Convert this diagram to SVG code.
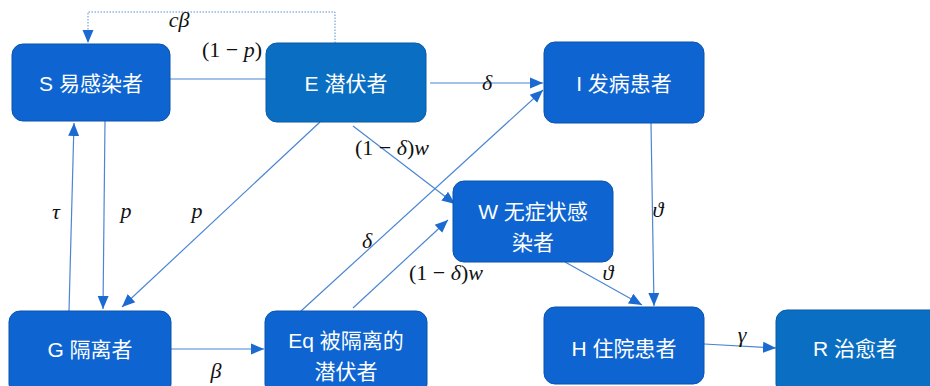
<svg xmlns="http://www.w3.org/2000/svg" width="930" height="386" viewBox="0 0 930 386">
<style>
.box{fill:#0e65d1;stroke:#0b52ab;stroke-width:1}
.box2{fill:#0a6fc3;stroke:#0a5aa3;stroke-width:1}
.t{fill:#ffffff;font-family:"Liberation Sans","Noto Sans CJK SC",sans-serif;font-size:21px;text-anchor:middle;dominant-baseline:central}
.m{fill:#111111;font-family:"Liberation Serif","DejaVu Serif",serif;font-size:22px;text-anchor:middle}
.i{font-style:italic}
.c{fill:none;stroke:#4a86d3;stroke-width:1.2}
.d{fill:none;stroke:#5b8fd6;stroke-width:1;stroke-dasharray:1.5 1.5}
</style>
<defs>
<marker id="ah" markerUnits="userSpaceOnUse" markerWidth="14" markerHeight="14" viewBox="0 0 14 14" refX="13" refY="7" orient="auto">
<path d="M0,1.5 L13,7 L0,12.5 Z" fill="#1a6ad2"/>
</marker>
</defs>
<rect width="930" height="386" fill="#ffffff"/>
<g id="connectors">
<path class="d" d="M335,43 V12 H88 V43" marker-end="url(#ah)"/>
<line class="c" x1="170" y1="79" x2="266" y2="79"/>
<line class="c" x1="430" y1="83" x2="543" y2="83" marker-end="url(#ah)"/>
<line class="c" x1="105" y1="121" x2="103" y2="309" marker-end="url(#ah)"/>
<line class="c" x1="69" y1="311" x2="74" y2="123" marker-end="url(#ah)"/>
<line class="c" x1="320" y1="122" x2="122" y2="307" marker-end="url(#ah)"/>
<line class="c" x1="353" y1="126" x2="455" y2="204" marker-end="url(#ah)"/>
<line class="c" x1="301" y1="311" x2="543" y2="90" marker-end="url(#ah)"/>
<line class="c" x1="353" y1="308" x2="448" y2="220" marker-end="url(#ah)"/>
<line class="c" x1="651" y1="123" x2="654" y2="306" marker-end="url(#ah)"/>
<line class="c" x1="565" y1="262" x2="642" y2="305" marker-end="url(#ah)"/>
<line class="c" x1="171" y1="349" x2="264" y2="349" marker-end="url(#ah)"/>
<line class="c" x1="704" y1="344" x2="776" y2="348" marker-end="url(#ah)"/>
</g>
<g id="labels">
<text class="m i" x="179" y="27">cβ</text>
<text class="m" x="232" y="57">(1 − <tspan class="i">p</tspan>)</text>
<text class="m i" x="487" y="90">δ</text>
<text class="m" x="392" y="155">(1 − <tspan class="i">δ</tspan>)<tspan class="i">w</tspan></text>
<text class="m i" x="56" y="219">τ</text>
<text class="m i" x="126" y="218">p</text>
<text class="m i" x="197" y="218">p</text>
<text class="m i" x="367" y="248">δ</text>
<text class="m" x="446" y="280">(1 − <tspan class="i">δ</tspan>)<tspan class="i">w</tspan></text>
<text class="m i" x="658" y="217">ϑ</text>
<text class="m i" x="608" y="280">ϑ</text>
<text class="m i" x="216" y="378">β</text>
<text class="m i" x="742" y="342">γ</text>
</g>
<g id="S"><rect class="box" x="12" y="44" width="158" height="77" rx="11"/><text class="t" x="91" y="83">S 易感染者</text></g>
<g id="E"><rect class="box2" x="266" y="43" width="160" height="79" rx="11"/><text class="t" x="346" y="83">E 潜伏者</text></g>
<g id="I"><rect class="box" x="544" y="42" width="160" height="81" rx="11"/><text class="t" x="624" y="83">I 发病患者</text></g>
<g id="W"><rect class="box" x="453" y="181" width="160" height="81" rx="11"/><text class="t" x="533" y="211">W 无症状感</text><text class="t" x="533" y="242">染者</text></g>
<g id="G"><rect class="box" x="9" y="311" width="162" height="84" rx="11"/><text class="t" x="90" y="349">G 隔离者</text></g>
<g id="Eq"><rect class="box" x="265" y="311" width="162" height="84" rx="11"/><text class="t" x="346" y="340">Eq 被隔离的</text><text class="t" x="346" y="371">潜伏者</text></g>
<g id="H"><rect class="box" x="544" y="307" width="160" height="77" rx="11"/><text class="t" x="624" y="348">H 住院患者</text></g>
<g id="R"><rect class="box2" x="776" y="310" width="166" height="85" rx="11"/><text class="t" x="855" y="348">R 治愈者</text></g>
</svg>
